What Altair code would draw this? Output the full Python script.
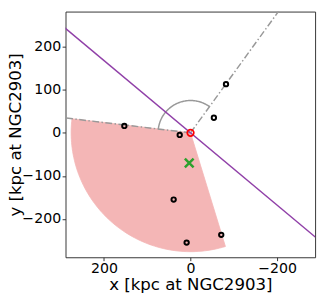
import altair as alt
import pandas as pd
import numpy as np

# satellite positions (kpc)
sat_x = [-82, -54, 153, 25, 39, 9, -71]
sat_y = [113, 35, 16, -5, -155, -255, -237]
host_x = [0]
host_y = [0]
cross_x = [3]
cross_y = [-70]

# geometry parameters (degrees, kpc)
wedge_radius = 276
wedge_start = 6.8
wedge_end = -107
arc_radius = 75
arc_start = 6.8
arc_end = 125.8
line_angles = [6.8, 125.8]
purple_slope = 0.839

X_DOM = [289, -288]
Y_DOM = [-289, 281.5]

def arc_pts(r, a0, a1, n=80):
    t = np.radians(np.linspace(a0, a1, n))
    return r * np.cos(t), r * np.sin(t)

wx, wy = arc_pts(wedge_radius, wedge_start, wedge_end)
wedge = pd.DataFrame({"x": np.r_[0, wx, 0], "y": np.r_[0, wy, 0]})
wedge["i"] = range(len(wedge))

ax_, ay_ = arc_pts(arc_radius, arc_start, arc_end)
arc = pd.DataFrame({"x": ax_, "y": ay_, "i": range(len(ax_))})

rows = []
for k, a in enumerate(line_angles):
    t = np.radians(a)
    rows.append({"x": 0, "y": 0, "i": 0, "g": k})
    rows.append({"x": 500 * np.cos(t), "y": 500 * np.sin(t), "i": 1, "g": k})
dd = pd.DataFrame(rows)

purple = pd.DataFrame({"x": [400, -400], "y": [400 * purple_slope, -400 * purple_slope], "i": [0, 1]})

sats = pd.DataFrame({"x": sat_x, "y": sat_y})
host = pd.DataFrame({"x": host_x, "y": host_y})
cross = pd.DataFrame({"x": cross_x, "y": cross_y})

X = alt.X("x:Q", scale=alt.Scale(domain=X_DOM, nice=False, zero=False),
          axis=alt.Axis(values=[200, 0, -200], title="x [kpc at NGC2903]"))
Y = alt.Y("y:Q", scale=alt.Scale(domain=Y_DOM, nice=False, zero=False),
          axis=alt.Axis(values=[-200, -100, 0, 100, 200], title="y [kpc at NGC2903]"))

w = alt.Chart(wedge).mark_line(fill="#f4b6b6", stroke="#f4b6b6", strokeWidth=0.8, clip=True).encode(
    x=X, y=Y, order="i:Q")
d = alt.Chart(dd).mark_line(color="#999999", strokeWidth=1.5, strokeDash=[7, 2.5, 1.5, 2.5], clip=True).encode(
    x=X, y=Y, order="i:Q", detail="g:N")
a = alt.Chart(arc).mark_line(color="#999999", strokeWidth=1.5, clip=True).encode(x=X, y=Y, order="i:Q")
p = alt.Chart(purple).mark_line(color="#9040a8", strokeWidth=1.5, clip=True).encode(x=X, y=Y, order="i:Q")
s = alt.Chart(sats).mark_point(shape="circle", filled=False, color="black", size=20, strokeWidth=2, opacity=1).encode(x=X, y=Y)
h = alt.Chart(host).mark_point(shape="circle", filled=False, color="red", size=45, strokeWidth=1.8, opacity=1).encode(x=X, y=Y)
c = alt.Chart(cross).mark_point(shape="M-1,-1L1,1M-1,1L1,-1", filled=False, color="#2ca02c", size=80, strokeWidth=2.5, opacity=1).encode(x=X, y=Y)

chart = alt.layer(w, d, a, p, s, h, c).properties(
    width=256, height=252,
    autosize=alt.AutoSizeParams(type="none"),
    padding={"left": 59, "top": 0, "right": 4, "bottom": 34},
).configure_view(stroke="#333333", strokeWidth=1).configure_axis(
    grid=False, domain=False,
    labelFont="DejaVu Sans", titleFont="DejaVu Sans",
    labelFontSize=14.5, titleFontSize=17, titleFontWeight="normal",
    labelColor="black", titleColor="black", tickColor="#333333",
    tickSize=3.5, labelPadding=1.5,
).configure_axisX(titlePadding=2).configure_axisY(titlePadding=-3)

chart.save("out.html", embed_options={"renderer": "svg", "actions": False})
